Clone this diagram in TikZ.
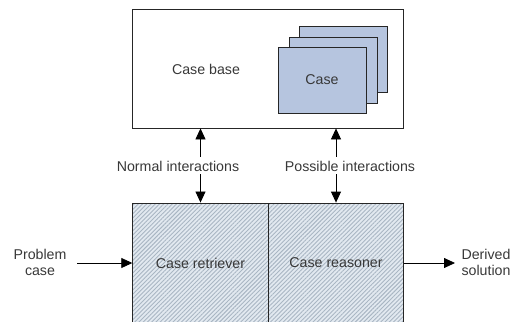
\documentclass[tikz,border=0pt]{standalone}
\usepackage{fontspec}
\setmainfont{Liberation Sans}
\usetikzlibrary{arrows.meta,patterns.meta}
\definecolor{txt}{HTML}{383838}
\definecolor{cardfill}{HTML}{B6C5DF}
\definecolor{hatchbg}{HTML}{E2E9F0}
\definecolor{hatchln}{HTML}{A9B6C3}
\tikzset{
  lbl/.style={text=txt, font=\fontsize{14.2}{16}\selectfont, align=center, inner sep=1pt},
  frame/.style={draw=black!85, line width=0.8pt},
  card/.style={frame, fill=cardfill, minimum width=88pt, minimum height=66pt, inner sep=0pt},
  hatched/.style={frame, preaction={fill=hatchbg},
    pattern={Lines[angle=45,distance=3pt,line width=0.9pt]}, pattern color=hatchln,
    minimum width=135.5pt, minimum height=120pt, inner sep=0pt},
  arr/.style={line width=0.8pt, draw=black, -{Triangle[length=11pt,width=10pt]}}
}
\begin{document}
\begin{tikzpicture}[x=1pt,y=-1pt]
\useasboundingbox (0,0) rectangle (516,321);
\clip (0,0) rectangle (516,321);
% case base with its stack of cases
\node[frame, minimum width=271pt, minimum height=119pt, inner sep=0pt] (base) at (267.5,68.5) {};
\node[lbl] (baselbl) at (206,69) {Case base};
\node[card] (c3) at (343.5,59.5) {};
\node[card] (c2) at (333,70) {};
\node[card] (c1) at (322,80) {};
\node[lbl] (caselbl) at (c1) {Case};
% retriever and reasoner
\node[hatched] (ret) at (200.5,263) {};
\node[hatched] (rea) at (336,263) {};
\node[lbl] (retlbl) at (ret) {Case retriever};
\node[lbl] (realbl) at (rea) {Case reasoner};
% interaction labels
\node[lbl] (ni) at (178,166) {Normal interactions};
\node[lbl] (pi) at (350,166) {Possible interactions};
\draw[arr] (ni.north -| ret.north) ++(0,-3) -- (base.south -| ret.north);
\draw[arr] (ni.south -| ret.north) ++(0,2) -- (ret.north);
\draw[arr] (pi.north -| rea.north) ++(0,-3) -- (base.south -| rea.north);
\draw[arr] (pi.south -| rea.north) ++(0,2) -- (rea.north);
% input and output
\node[lbl] (prob) at (40,262) {Problem\\case};
\node[lbl] (sol) at (486,262) {Derived\\solution};
\coordinate (pin) at (77,263);
\coordinate (pout) at (455,263);
\draw[arr] (pin) -- (pin -| ret.west);
\draw[arr] (pout -| rea.east) -- (pout);
\end{tikzpicture}
\end{document}
